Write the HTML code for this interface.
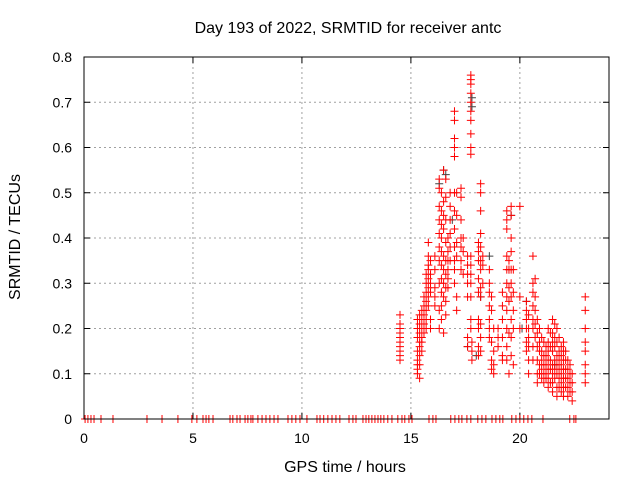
<!DOCTYPE html>
<html><head><meta charset="utf-8"><style>
body{margin:0;background:#fff}
svg{display:block;font-family:"Liberation Sans",sans-serif}
</style></head><body>
<svg id="chart" width="640" height="480" viewBox="0 0 640 480">
<rect width="640" height="480" fill="#fff"/>
<text x="348" y="33" font-size="16" text-anchor="middle">Day 193 of 2022, SRMTID for receiver antc</text>
<g id="grid"></g>
<g id="ticks"></g>
<g id="pts"></g>
<rect x="84" y="57" width="525" height="362" fill="none" stroke="#000" stroke-width="1"/>
<text x="345" y="472" font-size="16" text-anchor="middle">GPS time / hours</text>
<text x="20" y="237" font-size="16" text-anchor="middle" transform="rotate(-90 20 237)">SRMTID / TECUs</text>
</svg>
<script>
const xTicks=[0,5,10,15,20];
const yTicks=[0,0.1,0.2,0.3,0.4,0.5,0.6,0.7,0.8];
const yTickLabels=["0","0.1","0.2","0.3","0.4","0.5","0.6","0.7","0.8"];
const zeroHours=[0.05,0.18,0.32,0.46,0.78,1.33,2.89,3.58,4.31,4.95,5.18,5.46,5.6,5.73,5.92,6.7,6.83,7.02,7.16,7.39,7.52,7.66,7.75,7.98,8.17,8.35,8.53,8.72,8.9,9.36,9.54,9.72,9.91,10.23,10.69,10.83,11.0,11.19,11.38,11.56,11.74,12.16,12.34,12.48,12.8,12.94,13.07,13.21,13.35,13.49,13.62,13.76,13.94,14.13,14.4,14.59,14.72,14.91,15.05,15.83,16.01,16.15,16.83,17.02,17.2,17.34,17.57,17.75,18.07,18.26,18.44,18.72,18.9,19.08,19.22,19.63,19.82,20.0,20.18,20.37,20.55,21.06,22.29,22.48,22.57];
const grayHours=[16.5,16.6,16.3,17.8,17.8,19.6,18.6,17.0,20.1,17.6,18.0,18.2,20.3,16.9,19.5,21.6];
const grayValues=[0.55,0.54,0.52,0.71,0.69,0.45,0.36,0.38,0.2,0.16,0.14,0.27,0.26,0.44,0.33,0.12];
const redGroupHours=[14.5,15.3,15.4,15.5,15.6,15.7,15.8,15.9,16.1,16.3,16.4,16.5,16.6,16.7,16.8,17.0,17.1,17.3,17.4,17.6,17.75,17.8,18.1,18.2,18.3,18.6,18.7,18.8,19.0,19.2,19.4,19.5,19.6,19.7,20.0,20.3,20.4,20.6,20.7,20.8,20.9,21.0,21.1,21.2,21.3,21.4,21.5,21.6,21.7,21.8,21.9,22.0,22.1,22.2,22.3,22.4,23.0];
const redGroupValues=[
[.23,.21,.2,.18,.17,.16,.15,.14,.13,.19],
[.22,.2,.18,.15,.13,.12,.11,.1],
[.23,.21,.19,.17,.16,.14,.12,.09],
[.24,.22,.2,.18,.17,.15],
[.27,.25,.23,.21,.19],
[.32,.3,.28,.26,.24,.22,.2],
[.39,.36,.34,.33,.31,.29,.27,.25],
[.35,.32,.3,.28,.22,.2],
[.25,.27,.29,.33,.36],
[.3,.35,.38,.41,.44,.47,.51,.53,.24,.2],
[.5,.46,.43,.4,.37,.34,.31,.28,.25,.22],
[.55,.48,.45,.42,.36,.33,.3,.27,.19],
[.53,.49,.44,.39,.35,.32,.29,.26,.23],
[.4,.37,.35,.33,.31,.29],
[.5,.47,.44,.41,.38,.35],
[.68,.66,.62,.6,.58,.5,.46,.42,.38,.35,.33,.3],
[.5,.45,.39,.36,.27,.24],
[.51,.49,.44,.4,.38,.35,.33],
[.4,.37,.32],
[.36,.34,.32,.3,.27,.18,.16],
[.76,.75,.74,.72,.7,.68,.66,.63,.6,.585,.36,.34,.32,.3,.27,.22,.2],
[.13,.15,.17],
[.39,.37,.35,.31,.28,.22,.2,.16,.14],
[.52,.5,.46,.41,.38,.35,.33,.29,.27,.21,.18,.15],
[.36,.34,.3],
[.33,.3,.28,.25,.22,.2,.18],
[.27,.24,.17,.13,.11],
[.2,.15,.12,.1],
[.2,.18,.16],
[.28,.25,.22,.18,.14,.13],
[.46,.44,.42,.36,.33,.3,.27,.24,.2,.16,.13],
[.35,.33,.29,.26,.19,.1],
[.47,.45,.4,.37,.33,.3,.27,.22,.18,.14],
[.33,.28,.24,.2,.12],
[.47,.27,.2],
[.26,.24,.22,.2,.17,.15],
[.23,.2,.18,.16,.13,.1],
[.36,.3,.28,.25,.22,.2,.16,.13],
[.31,.27,.24,.21,.18],
[.22,.19,.16,.13,.1,.08],
[.2,.17,.15,.12,.1],
[.18,.15,.13,.11,.09],
[.17,.14,.12,.1,.08],
[.16,.14,.12,.1,.09],
[.2,.17,.15,.13,.11,.09,.07],
[.19,.16,.13,.11,.08],
[.22,.19,.17,.15,.12,.1,.08,.06],
[.21,.18,.16,.13,.11,.09],
[.2,.17,.14,.12,.1,.07,.05],
[.18,.15,.13,.11,.09,.07],
[.16,.14,.12,.1,.08,.06],
[.17,.15,.13,.11,.09,.07,.05],
[.15,.13,.11,.09,.07],
[.13,.11,.09,.07,.05],
[.12,.1,.08,.06],
[.1,.08,.06,.04],
[.27,.24,.2,.17,.15,.12,.1,.08]];

const NS="http://www.w3.org/2000/svg";
const X0=84,X1=609,Y0=419,Y1=57,XMAX=24.09,YMAX=0.8;
function xs(h){return X0+(X1-X0)*h/XMAX;}
function ys(v){return Y0-(Y0-Y1)*v/YMAX;}
function mk(tag,attrs,parent){const e=document.createElementNS(NS,tag);for(const k in attrs)e.setAttribute(k,attrs[k]);parent.appendChild(e);return e;}
const grid=document.getElementById('grid'),ticks=document.getElementById('ticks'),pts=document.getElementById('pts');
xTicks.forEach(t=>{
  const x=xs(t);
  if(t>0){const g=mk('line',{x1:x,x2:x,y1:Y1,y2:Y0,stroke:'#a0a0a0','stroke-dasharray':'2,3'},grid);
  
  }
  mk('line',{x1:x,x2:x,y1:Y0,y2:Y0-6,stroke:'#000'},ticks);
  mk('line',{x1:x,x2:x,y1:Y1,y2:Y1+6,stroke:'#000'},ticks);
  const l=mk('text',{x:x,y:443,'font-size':14,'text-anchor':'middle'},ticks);
  l.textContent=t;
  
  
});
yTicks.forEach((t,i)=>{
  const y=ys(t);
  if(t>0&&t<YMAX){const g=mk('line',{x1:X0,x2:X1,y1:y,y2:y,stroke:'#a0a0a0','stroke-dasharray':'2,3'},grid);
  
  }
  mk('line',{x1:X0,x2:X0+6,y1:y,y2:y,stroke:'#000'},ticks);
  mk('line',{x1:X1,x2:X1-6,y1:y,y2:y,stroke:'#000'},ticks);
  const l=mk('text',{x:72,y:y+5,'font-size':14,'text-anchor':'end'},ticks);
  l.textContent=yTickLabels[i];
  
  
});
function plus(h,v,color,name){
  const x=xs(h),y=ys(v);
  const p=mk('path',{d:`M${x-4},${y}H${x+4}M${x},${y-4}V${y+4}`,stroke:color,'stroke-width':1,fill:'none'},pts);
  
  
}
grayHours.forEach((h,i)=>plus(h,grayValues[i],'#404040','gray-point'));
zeroHours.forEach(h=>plus(h,0,'#ff0000','zero-point'));
redGroupHours.forEach((h,i)=>redGroupValues[i].forEach(v=>plus(h,v,'#ff0000','red-point')));
</script>
</body></html>
